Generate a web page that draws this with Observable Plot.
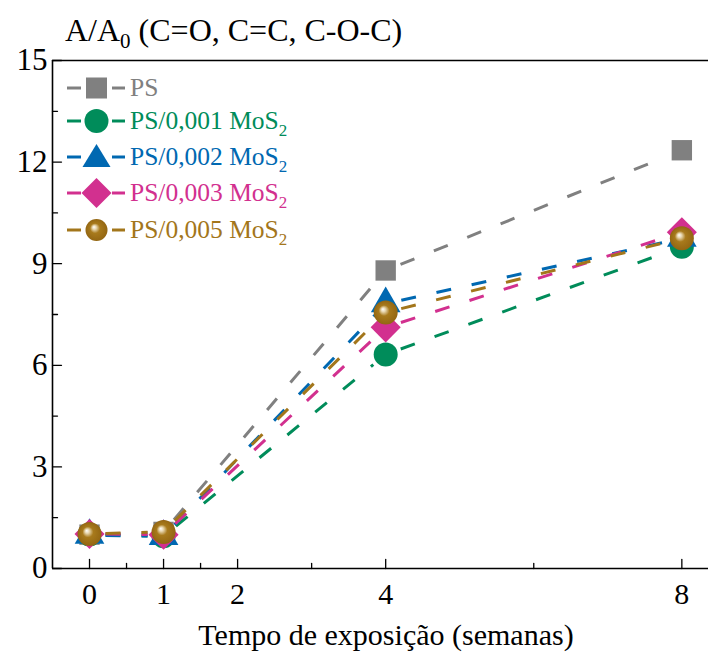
<!DOCTYPE html>
<html><head><meta charset="utf-8">
<script src="https://cdn.jsdelivr.net/npm/d3@7"></script>
<script src="https://cdn.jsdelivr.net/npm/@observablehq/plot@0.6"></script>
<style>body{margin:0;background:#fff;}</style>
</head><body><div id="chart"></div>
<script>
// ---- data ----
const weeks = [0, 1, 4, 8];
const seriesKeys = ["PS", "PS/0,001 MoS2", "PS/0,002 MoS2", "PS/0,003 MoS2", "PS/0,005 MoS2"];
const legendMain = ["PS", "PS/0,001 MoS", "PS/0,002 MoS", "PS/0,003 MoS", "PS/0,005 MoS"];
const legendSub = ["", "2", "2", "2", "2"];
const valuesPS = [1.0, 1.08, 8.8, 12.35];
const values001 = [1.0, 0.95, 6.32, 9.5];
const values002 = [0.98, 0.95, 7.82, 9.75];
const values003 = [1.02, 1.0, 7.12, 9.93];
const values005 = [1.02, 1.08, 7.56, 9.75];
const colors = ["#808080", "#008c5a", "#0068b1", "#d2308f", "#a3761b"];
const symbolNames = ["square", "circle", "triangle", "diamond", "sphere"];
const xTicks = [0, 1, 2, 4, 8];
const xMinorTicks = [0.5, 1.5, 3, 6];
const yTicks = [0, 3, 6, 9, 12, 15];
const yMinorTicks = [1.5, 4.5, 7.5, 10.5, 13.5];
const xDomain = [-0.5, 8.36];
const yDomain = [0, 15];
const titleMain = "A/A";
const titleSub = "0";
const titleRest = " (C=O, C=C, C-O-C)";
const xLabel = "Tempo de exposição (semanas)";

const allValues = [valuesPS, values001, values002, values003, values005];
const rows = [];
const segs = [];
allValues.forEach((vals, si) => {
  vals.forEach((v, i) => rows.push({series: si, week: weeks[i], value: v}));
  for (let i = 0; i < vals.length - 1; i++) {
    segs.push({series: si, x1: weeks[i], y1: vals[i], x2: weeks[i + 1], y2: vals[i + 1]});
  }
});

const font = "'Liberation Serif', 'Times New Roman', serif";
const tickShape = {draw(ctx, l) { ctx.moveTo(0, 0); ctx.lineTo(0, -l); }};

const dotMarks = symbolNames.map((sym, si) => {
  const data = rows.filter(d => d.series === si);
  if (sym === "square") return Plot.dot(data, {x: "week", y: "value", symbol: "square", r: 11.5, fill: colors[si], stroke: "none"});
  if (sym === "circle") return Plot.dot(data, {x: "week", y: "value", symbol: "circle", r: 12, fill: colors[si], stroke: "none"});
  if (sym === "triangle") return Plot.dot(data, {x: "week", y: "value", symbol: "triangle", r: 11, fill: colors[si], stroke: "none"});
  if (sym === "diamond") return Plot.dot(data, {x: "week", y: "value", symbol: "square", rotate: 45, r: 12, fill: colors[si], stroke: "none"});
  return Plot.dot(data, {x: "week", y: "value", symbol: "circle", r: 12, fill: "url(#sphereGrad)", stroke: "none"});
});

const plot = Plot.plot({
  width: 708,
  height: 652,
  marginTop: 60,
  marginLeft: 52,
  marginRight: 0,
  marginBottom: 84,
  style: {fontFamily: font, background: "#fff", overflow: "visible"},
  x: {domain: xDomain},
  y: {domain: yDomain},
  marks: [
    Plot.arrow(segs, {x1: "x1", y1: "y1", x2: "x2", y2: "y2", stroke: d => colors[d.series],
      headLength: 0, bend: 0, insetStart: 16, insetEnd: 16, strokeWidth: 3,
      strokeDasharray: "15,21", strokeLinecap: "butt"}),
    ...dotMarks,
    Plot.ruleY([yDomain[0]], {stroke: "#000", strokeWidth: 1.6}),
    Plot.ruleY([yDomain[1]], {stroke: "#000", strokeWidth: 1.6}),
    Plot.ruleX([xDomain[0]], {stroke: "#000", strokeWidth: 1.6}),
    Plot.vector(xTicks, {x: d => d, frameAnchor: "bottom", length: 9, anchor: "start", shape: tickShape, stroke: "#000", strokeWidth: 1.3}),
    Plot.vector(xMinorTicks, {x: d => d, frameAnchor: "bottom", length: 5, anchor: "start", shape: tickShape, stroke: "#000", strokeWidth: 1.3}),
    Plot.vector(yTicks, {y: d => d, frameAnchor: "left", rotate: 90, length: 9, anchor: "start", shape: tickShape, stroke: "#000", strokeWidth: 1.3}),
    Plot.vector(yMinorTicks, {y: d => d, frameAnchor: "left", rotate: 90, length: 5, anchor: "start", shape: tickShape, stroke: "#000", strokeWidth: 1.3}),
    Plot.axisX(xTicks, {tickSize: 0, tickPadding: 14, fontSize: 30, fill: "#000", label: null}),
    Plot.axisY(yTicks, {tickSize: 0, tickPadding: 5, fontSize: 31, fill: "#000", label: null})
  ]
});

const svg = d3.select(plot);
const defs = svg.insert("defs", ":first-child");
const grad = defs.append("radialGradient").attr("id", "sphereGrad")
  .attr("cx", "0.5").attr("cy", "0.5").attr("r", "0.5").attr("fx", "0.38").attr("fy", "0.36");
grad.append("stop").attr("offset", "0").attr("stop-color", "#ffffff");
grad.append("stop").attr("offset", "0.18").attr("stop-color", "#e8d7b0");
grad.append("stop").attr("offset", "0.45").attr("stop-color", "#a87a1c");
grad.append("stop").attr("offset", "1").attr("stop-color", "#936612");

// title
const t = svg.append("text").attr("x", 65).attr("y", 41).attr("text-anchor", "start")
  .attr("font-family", font).attr("font-size", 32).attr("fill", "#000");
t.append("tspan").text(titleMain);
t.append("tspan").attr("font-size", 21).attr("dy", 7).text(titleSub);
t.append("tspan").attr("dy", -7).text(titleRest);

// x label
svg.append("text").attr("x", 386).attr("y", 645).attr("text-anchor", "middle")
  .attr("font-family", font).attr("font-size", 30).attr("fill", "#000").text(xLabel);

// legend
const leg = svg.append("g");
const legendRowY = [88, 121, 157, 193, 230];
seriesKeys.forEach((k, i) => {
  const y = legendRowY[i];
  const g = leg.append("g").attr("transform", `translate(0,${y})`);
  g.append("line").attr("x1", 67).attr("x2", 81).attr("y1", 0).attr("y2", 0).attr("stroke", colors[i]).attr("stroke-width", 3);
  g.append("line").attr("x1", 112).attr("x2", 125).attr("y1", 0).attr("y2", 0).attr("stroke", colors[i]).attr("stroke-width", 3);
  const sym = symbolNames[i];
  const cx = 96.5;
  if (sym === "square") g.append("rect").attr("x", cx - 10.5).attr("y", -10.5).attr("width", 21).attr("height", 21).attr("fill", colors[i]);
  else if (sym === "circle") g.append("circle").attr("cx", cx).attr("cy", 0).attr("r", 12).attr("fill", colors[i]);
  else if (sym === "triangle") g.append("path").attr("d", `M${cx},-13L${cx + 14},10L${cx - 14},10Z`).attr("fill", colors[i]);
  else if (sym === "diamond") g.append("path").attr("d", `M${cx},-15L${cx + 15},0L${cx},15L${cx - 15},0Z`).attr("fill", colors[i]);
  else g.append("circle").attr("cx", cx).attr("cy", 0).attr("r", 11).attr("fill", "url(#sphereGrad)");
  const tx = g.append("text").attr("x", 130).attr("y", 8).attr("text-anchor", "start")
    .attr("font-family", font).attr("font-size", 25.5).attr("fill", colors[i]);
  tx.append("tspan").text(legendMain[i]);
  if (legendSub[i]) tx.append("tspan").attr("font-size", 17).attr("dy", 7).text(legendSub[i]);
});

document.getElementById("chart").appendChild(plot);
</script>
</body></html>
